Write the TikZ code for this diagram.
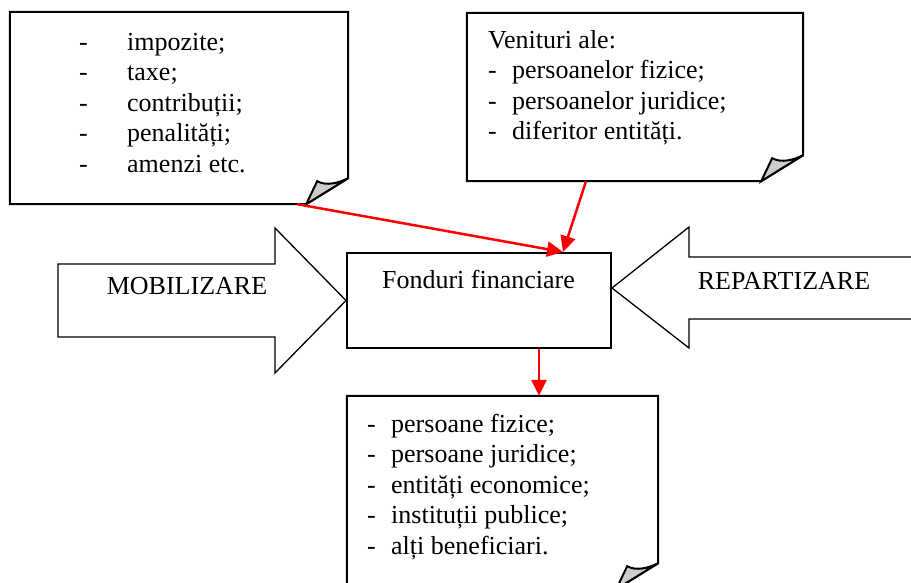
\documentclass[tikz,border=0pt]{standalone}
\usepackage{fontspec}
\setmainfont{Liberation Serif}
\usepackage{tikz}
\usetikzlibrary{arrows.meta,calc}

\definecolor{curlgray}{RGB}{204,204,204}

\begin{document}
\begin{tikzpicture}[x=1pt, y=-1pt, >={Triangle[length=16pt,width=15pt]}, font=\fontsize{26}{30.5}\selectfont]
  % Define styles
  \tikzstyle{note}=[rectangle, inner sep=0pt]
  \tikzstyle{fund}=[rectangle, draw, line width=2pt, inner sep=0pt, minimum width=264pt, minimum height=95pt]
  \tikzstyle{textblock}=[inner sep=0pt, align=left, anchor=north west]
  \tikzstyle{label}=[inner sep=0pt, anchor=base]
  \tikzstyle{noteline}=[line width=2pt, line join=miter]
  \tikzstyle{bigarrow}=[line width=1.3pt, line join=miter]
  \tikzstyle{flow}=[->, red, line width=2.5pt]

  \useasboundingbox (0,0) rectangle (911,583);
  \clip (0,0) rectangle (911,583);

  % Nodes
  \node[note, minimum width=338pt, minimum height=192pt] (taxbox) at (179,108) {};
  \node[note, minimum width=336pt, minimum height=168pt] (venbox) at (635,97) {};
  \node[note, minimum width=311pt, minimum height=193pt] (benbox) at (502.5,492.5) {};
  \node[fund] (fonduri) at (479,300.5) {};

  \node[textblock] (taxtext) at (79,28.5)
    {\strut\makebox[48pt][l]{-}impozite;\\ \makebox[48pt][l]{-}taxe;\\
     \makebox[48pt][l]{-}contribuții;\\ \makebox[48pt][l]{-}penalități;\\
     \makebox[48pt][l]{-}amenzi etc.};
  \node[textblock] (ventext) at (488,26.5)
    {\strut Venituri ale:\\ \makebox[24pt][l]{-}persoanelor fizice;\\
     \makebox[24pt][l]{-}persoanelor juridice;\\ \makebox[24pt][l]{-}diferitor entități.};
  \node[textblock] (bentext) at (367,410.65)
    {\strut\makebox[24pt][l]{-}persoane fizice;\\ \makebox[24pt][l]{-}persoane juridice;\\
     \makebox[24pt][l]{-}entități economice;\\ \makebox[24pt][l]{-}instituții publice;\\
     \makebox[24pt][l]{-}alți beneficiari.};
  \node[label] (fondtext) at (478.5,288) {Fonduri financiare};

  % Note outlines with curled corner
  \foreach \b in {taxbox, venbox, benbox} {
    \draw[noteline] ([xshift=-42pt]\b.south east) -| (\b.north west)
      -| ([yshift=26pt]\b.south east) -- cycle;
    \filldraw[noteline, fill=curlgray] ([xshift=-42pt]\b.south east)
      -- ([shift={(-31pt,23pt)}]\b.south east)
      .. controls ([shift={(-22pt,18pt)}]\b.south east) and ([shift={(-10pt,21pt)}]\b.south east)
      .. ([yshift=26pt]\b.south east) -- cycle;
  }

  % Block arrows
  \draw[bigarrow] (58,264) -- (275,264) -- (275,228) -- (fonduri.west)
    -- (275,373) -- (275,337) -- (58,337) -- cycle;
  \node[label] (mob) at (187,294) {MOBILIZARE};
  \draw[bigarrow] (920,257) -- (689,257) -- (689,227) -- ([yshift=12.5pt]fonduri.east)
    -- (689,348) -- (689,319) -- (920,319);
  \node[label] (rep) at (784,289) {REPARTIZARE};

  % Edges
  \coordinate (tip) at ([xshift=84pt]fonduri.north);
  \coordinate (down) at ([xshift=60pt]fonduri.south);
  \draw[flow] ([xshift=-51pt]taxbox.south east) -- (tip);
  \draw[flow] ([xshift=-49pt]venbox.south) -- (tip);
  \draw[flow] (down) -- (down |- benbox.north);
\end{tikzpicture}
\end{document}
